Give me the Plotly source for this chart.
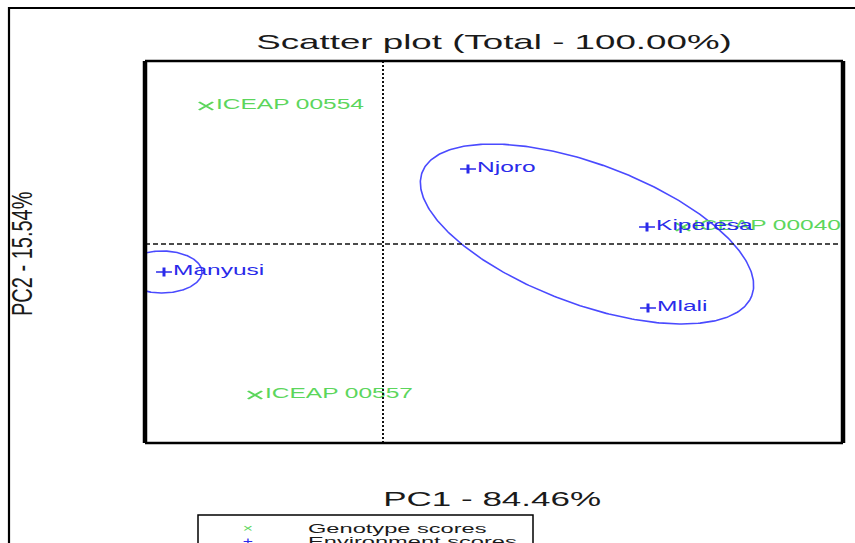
import numpy as np
import plotly.graph_objects as go

# ---- scores -------------------------------------------------------------
genotypes = ["ICEAP 00554", "ICEAP 00557", "ICEAP 00040"]
geno_pc1 = [-1.77, -1.28, 3.00]
geno_pc2 = [1.38, -1.51, 0.17]

environments = ["Njoro", "Kiperesa", "Mlali", "Manyusi"]
env_pc1 = [0.85, 2.64, 2.65, -2.19]
env_pc2 = [0.75, 0.17, -0.64, -0.28]

# mega-environment ellipses: centre, semi-axes and tilt (degrees)
ellipse_cx = [2.04, -2.21]
ellipse_cy = [0.10, -0.28]
ellipse_a = [1.76, 0.40]
ellipse_b = [0.70, 0.21]
ellipse_tilt = [-20.5, 0.0]

x_range = [-2.38, 4.60]
y_range = [-1.99, 1.83]

title_text = "Scatter plot (Total - 100.00%)"
x_title = "PC1 - 84.46%"
y_title = "PC2 - 15.54%"
legend_labels = ["Genotype scores", "Environment scores"]

# ---- styling ------------------------------------------------------------
W, H = 855, 543
ML, MR, MT, MB = 145, 12, 61, 100
PW, PH = W - ML - MR, H - MT - MB
FONT = "Liberation Sans, Arial, Helvetica, sans-serif"
GREEN = "#5cd65c"
BLUE = "#2a2aea"
ELLIPSE_BLUE = "#4a4aff"


def px(x):
    """canvas pixel column -> paper x"""
    return (x - ML) / PW


def py(y):
    """canvas pixel row -> paper y"""
    return (H - MB - y) / PH


fig = go.Figure()

# ellipses
t = np.linspace(0, 2 * np.pi, 400)
for cx, cy, a, b, th in zip(ellipse_cx, ellipse_cy, ellipse_a, ellipse_b, ellipse_tilt):
    r = np.deg2rad(th)
    ex = cx + a * np.cos(t) * np.cos(r) - b * np.sin(t) * np.sin(r)
    ey = cy + a * np.cos(t) * np.sin(r) + b * np.sin(t) * np.cos(r)
    fig.add_trace(go.Scatter(x=ex, y=ey, mode="lines", hoverinfo="skip",
                             line=dict(color=ELLIPSE_BLUE, width=1.6)))

# genotype scores
fig.add_trace(go.Scatter(
    x=geno_pc1, y=geno_pc2, mode="markers+text", text=genotypes,
    textposition="middle right",
    textfont=dict(family=FONT, size=14, color=GREEN),
    marker=dict(symbol="x-thin", size=8, line=dict(color=GREEN, width=1.6)),
))

# environment scores
fig.add_trace(go.Scatter(
    x=env_pc1, y=env_pc2, mode="markers+text", text=environments,
    textposition="middle right",
    textfont=dict(family=FONT, size=14, color=BLUE),
    marker=dict(symbol="cross-thin", size=6.5, line=dict(color=BLUE, width=1.7)),
))

shapes = [
    # zero lines
    dict(type="line", xref="x", yref="paper", x0=0, x1=0, y0=0, y1=1,
         line=dict(color="#111", width=2, dash="2px,2px")),
    dict(type="line", xref="paper", yref="y", x0=0, x1=1, y0=0, y1=0,
         line=dict(color="#111", width=1.3, dash="5px,3px")),
    # plot frame
    dict(type="line", xref="paper", yref="paper", x0=0, x1=0, y0=0, y1=1,
         line=dict(color="black", width=4.5)),
    dict(type="line", xref="paper", yref="paper", x0=1, x1=1, y0=0, y1=1,
         line=dict(color="black", width=4.5)),
    dict(type="line", xref="paper", yref="paper", x0=0, x1=1, y0=1, y1=1,
         line=dict(color="black", width=2.5)),
    dict(type="line", xref="paper", yref="paper", x0=0, x1=1, y0=0, y1=0,
         line=dict(color="black", width=2.5)),
    # page frame
    dict(type="rect", xref="paper", yref="paper", x0=px(9), x1=px(900),
         y0=py(600), y1=py(8), line=dict(color="black", width=2.2)),
    # legend box
    dict(type="rect", xref="paper", yref="paper", x0=px(198), x1=px(533),
         y0=py(600), y1=py(515), line=dict(color="black", width=1.5)),
]

annotations = [
    dict(text=title_text, x=px(494), y=py(42), xref="paper", yref="paper",
         showarrow=False, xanchor="center", yanchor="middle",
         font=dict(family=FONT, size=21, color="#1a1a1a")),
    dict(text=x_title, x=px(492), y=py(499), xref="paper", yref="paper",
         showarrow=False, xanchor="center", yanchor="middle",
         font=dict(family=FONT, size=20, color="#1a1a1a")),
    dict(text=y_title, x=px(22), y=py(254), xref="paper", yref="paper",
         showarrow=False, xanchor="center", yanchor="middle", textangle=-90,
         font=dict(family=FONT, size=20, color="#1a1a1a")),
]

legend_rows = [528, 541]
legend_syms = ["×", "+"]
legend_cols = [GREEN, BLUE]
for lab, sym, col, yy in zip(legend_labels, legend_syms, legend_cols, legend_rows):
    annotations.append(dict(text=sym, x=px(248), y=py(yy), xref="paper", yref="paper",
                            showarrow=False, xanchor="center", yanchor="middle",
                            font=dict(family=FONT, size=10, color=col)))
    annotations.append(dict(text=lab, x=px(306), y=py(yy), xref="paper", yref="paper",
                            showarrow=False, xanchor="left", yanchor="middle", align="left",
                            font=dict(family=FONT, size=13.5, color="#1a1a1a")))

fig.update_layout(
    width=W, height=H,
    margin=dict(l=ML, r=MR, t=MT, b=MB),
    paper_bgcolor="white", plot_bgcolor="white",
    showlegend=False,
    xaxis=dict(range=x_range, visible=False, fixedrange=True),
    yaxis=dict(range=y_range, visible=False, fixedrange=True),
    shapes=shapes,
    annotations=annotations,
)

# widen glyphs and point symbols horizontally (vertical for rotated text),
# and leave a little more room between each point and its label
post = """
var gd = document.getElementById('{plot_id}');
var K = 1.75, KR = 1.5, GAP = 4;
function rotated(el) {
  while (el && el !== gd) {
    var tr = el.getAttribute && el.getAttribute('transform');
    if (tr) {
      var m = tr.match(/rotate\\(\\s*(-?[\\d.]+)/);
      if (m && Math.abs(parseFloat(m[1])) > 1) return true;
    }
    el = el.parentNode;
  }
  return false;
}
gd.querySelectorAll('text').forEach(function (t) {
  if (!t.textContent) return;
  var bb = t.getBBox();
  var tr = t.getAttribute('transform') || '';
  var s;
  if (rotated(t)) {
    var cy = bb.y + bb.height / 2;
    s = ' translate(0,' + cy + ') scale(1,' + KR + ') translate(0,' + (-cy) + ')';
  } else {
    var a = t.getAttribute('text-anchor') || 'start';
    var ox = a === 'middle' ? bb.x + bb.width / 2 : (a === 'end' ? bb.x + bb.width : bb.x);
    var shift = t.closest('.textpoint') ? GAP : 0;
    s = ' translate(' + (ox + shift) + ',0) scale(' + K + ',1) translate(' + (-ox) + ',0)';
  }
  t.setAttribute('transform', tr + s);
});
gd.querySelectorAll('path.point').forEach(function (p) {
  var tr = p.getAttribute('transform') || '';
  p.setAttribute('transform', tr + ' scale(' + K + ',1)');
});
"""

fig.write_html("out.html", config={"displayModeBar": False}, post_script=post)
